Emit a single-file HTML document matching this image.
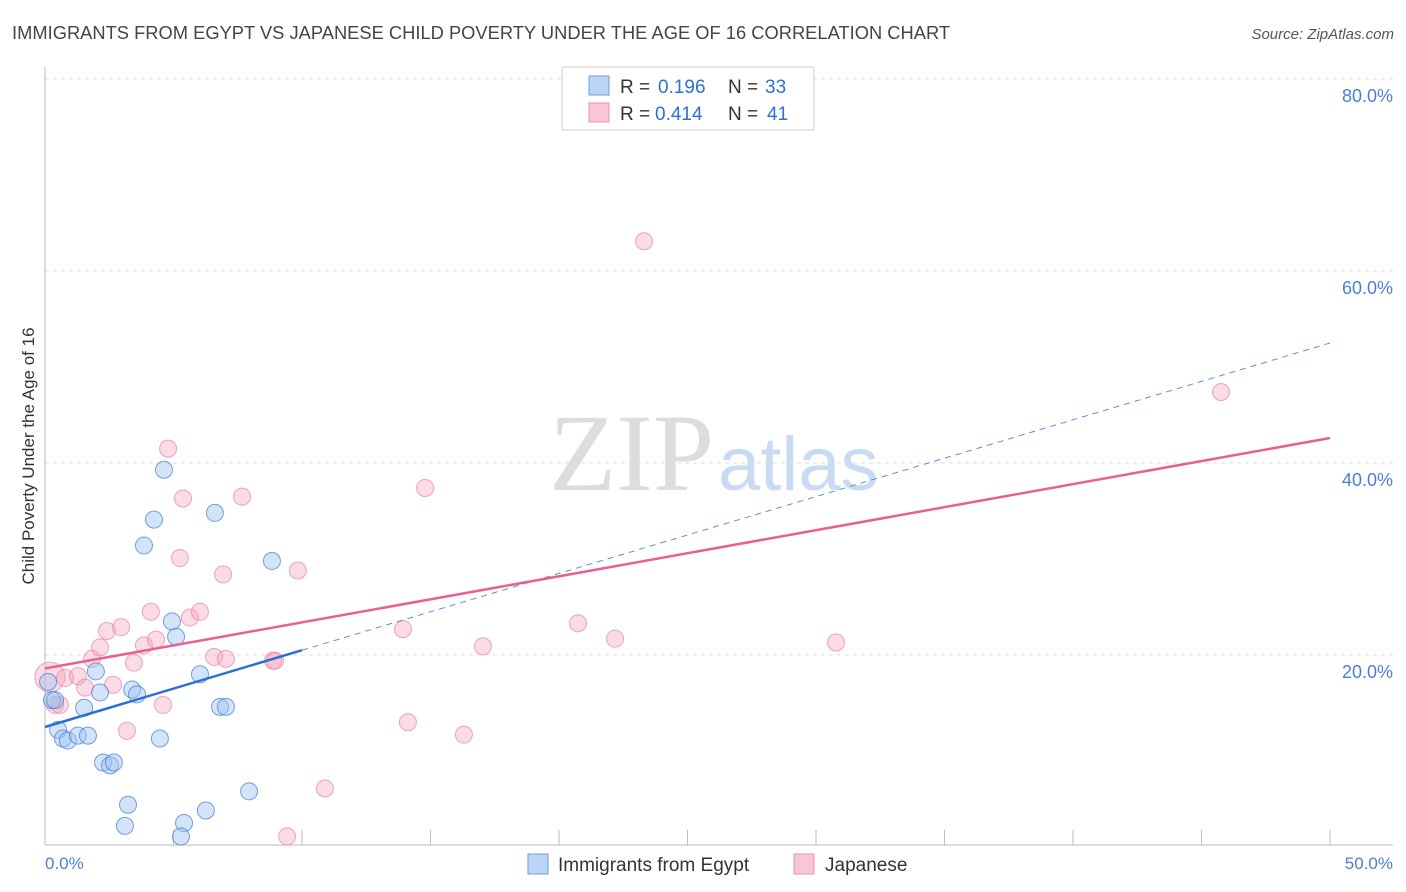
<!DOCTYPE html>
<html><head><meta charset="utf-8"><style>
body{margin:0;background:#fff;font-family:"Liberation Sans",sans-serif}
#wrap{position:relative;width:1406px;height:892px;overflow:hidden}
</style></head><body>
<div id="wrap">
<svg id="svg" width="1406" height="892" xmlns="http://www.w3.org/2000/svg">
<text x="12" y="39" font-size="18.3" fill="#444" textLength="938">IMMIGRANTS FROM EGYPT VS JAPANESE CHILD POVERTY UNDER THE AGE OF 16 CORRELATION CHART</text>
<text x="1394" y="39" font-size="15" fill="#555" text-anchor="end" font-style="italic">Source: ZipAtlas.com</text>
<text x="714" y="490" font-size="110" fill="#ddd" text-anchor="end" font-family="Liberation Serif,serif">ZIP</text>
<text x="718" y="490" font-size="76" fill="#c9daf3">atlas</text>
<g id="grid"></g>
<line x1="45" y1="67" x2="45" y2="845" stroke="#bbb"/>
<line x1="45" y1="845" x2="1393" y2="845" stroke="#bbb"/>
<text transform="translate(34,456) rotate(-90)" font-size="17" fill="#333" text-anchor="middle">Child Poverty Under the Age of 16</text>
<text x="45" y="869" font-size="17" fill="#4a7fd4">0.0%</text>
<text x="1393" y="869" font-size="17" fill="#4a7fd4" text-anchor="end">50.0%</text>
<g id="pts"></g>
<g id="trends"></g>
<g>
<rect x="562" y="67" width="252" height="63" fill="#fff" stroke="#ccc"/>
<rect x="589" y="76" width="20" height="19" fill="#bcd5f5" stroke="#6a9de0"/>
<rect x="589" y="103" width="20" height="19" fill="#f8c6d4" stroke="#e892ac"/>
<text x="620" y="93" font-size="19" fill="#333">R = </text><text x="658" y="93" font-size="19" fill="#2f6fd4">0.196</text>
<text x="728" y="93" font-size="19" fill="#333">N = </text><text x="765" y="93" font-size="19" fill="#2f6fd4">33</text>
<text x="620" y="120" font-size="19" fill="#333">R = </text><text x="655" y="120" font-size="19" fill="#2f6fd4">0.414</text>
<text x="728" y="120" font-size="19" fill="#333">N = </text><text x="767" y="120" font-size="19" fill="#2f6fd4">41</text>
</g>
<g>
<rect x="528" y="854" width="20" height="20" fill="#bcd5f5" stroke="#6a9de0"/>
<text x="558" y="871" font-size="19" fill="#333">Immigrants from Egypt</text>
<rect x="794" y="854" width="20" height="20" fill="#f8c6d4" stroke="#e892ac"/>
<text x="825" y="871" font-size="19" fill="#333">Japanese</text>
</g>
</svg>
</div>
<script>
const yTicks=[20,40,60,80];
const yTickLabels=["20.0%","40.0%","60.0%","80.0%"];
const xTicks=[5,10,15,20,25,30,35,40,45,50];
const egyptX=[0.27,0.51,0.70,0.89,1.28,1.67,1.52,1.98,2.14,2.26,2.53,2.68,3.23,3.11,3.39,3.58,3.85,4.24,4.47,4.63,4.94,5.10,5.41,5.29,6.03,6.26,6.61,6.81,7.04,7.94,8.83,0.12,0.39];
const egyptY=[15.3,12.2,11.3,11.1,11.6,11.6,14.5,18.3,16.1,8.8,8.5,8.8,4.4,2.2,16.4,15.9,31.4,34.1,11.3,39.3,23.5,21.9,2.5,1.1,18.0,3.8,34.8,14.6,14.6,5.8,29.8,17.2,15.3];
const japX=[0.19,0.39,0.78,1.28,1.56,1.83,2.14,2.41,2.65,2.96,3.19,3.46,3.85,4.12,4.32,4.59,4.79,5.25,5.37,5.64,6.03,6.58,6.93,7.04,7.67,8.87,8.95,9.84,9.42,10.89,13.93,14.12,14.79,16.30,17.04,20.74,22.18,23.31,30.78,45.76,0.58];
const japY=[17.7,14.8,17.6,17.8,16.6,19.6,20.8,22.5,16.9,22.9,12.1,19.2,21.0,24.5,21.6,14.8,41.5,30.1,36.3,23.9,24.5,19.8,28.4,19.6,36.5,19.4,19.4,28.8,1.1,6.1,22.7,13.0,37.4,11.7,20.9,23.3,21.7,63.1,21.3,47.4,14.8];
const japSize=[15,8.5,8.5,8.5,8.5,8.5,8.5,8.5,8.5,8.5,8.5,8.5,8.5,8.5,8.5,8.5,8.5,8.5,8.5,8.5,8.5,8.5,8.5,8.5,8.5,8.5,8.5,8.5,8.5,8.5,8.5,8.5,8.5,8.5,8.5,8.5,8.5,8.5,8.5,8.5,8.5];
const egyptTrend=[12.5,52.5];
const egyptSolidEnd=10;
const japTrend=[18.6,42.6];
const NS="http://www.w3.org/2000/svg";
const xs=v=>45+v/50*1285;
const ys=v=>847-v/20*192;
function mk(t,a,p){const e=document.createElementNS(NS,t);for(const k in a)e.setAttribute(k,a[k]);p.appendChild(e);return e;}
const grid=document.getElementById('grid');
yTicks.forEach((t,i)=>{
 const l=mk('line',{x1:45,x2:1393,y1:ys(t),y2:ys(t),stroke:'#ddd','stroke-dasharray':'4,4'},grid);
 
 
 const tx=mk('text',{x:1393,y:ys(t)+23,'font-size':18,fill:'#4a7fd4','text-anchor':'end'},grid);
 tx.textContent=yTickLabels[i];
 
 
});
xTicks.forEach(t=>{
 const l=mk('line',{x1:xs(t),x2:xs(t),y1:830,y2:845,stroke:'#bbb'},grid);
 
 
});
const pts=document.getElementById('pts');
japX.forEach((x,i)=>{
 const c=mk('circle',{cx:xs(x),cy:ys(japY[i]),r:japSize[i],fill:'rgba(244,166,190,0.4)',stroke:'rgba(232,130,160,0.7)','stroke-width':1},pts);
 
 
});
egyptX.forEach((x,i)=>{
 const c=mk('circle',{cx:xs(x),cy:ys(egyptY[i]),r:8.5,fill:'rgba(160,196,240,0.45)',stroke:'rgba(70,130,215,0.75)','stroke-width':1},pts);
 
 
});
const tr=document.getElementById('trends');
const eAt=x=>egyptTrend[0]+(egyptTrend[1]-egyptTrend[0])*x/50;
const d=mk('line',{x1:xs(egyptSolidEnd),y1:ys(eAt(egyptSolidEnd)),x2:xs(50),y2:ys(egyptTrend[1]),stroke:'#5b8fd8','stroke-width':1,'stroke-dasharray':'6,5'},tr);


const p=mk('line',{x1:xs(0),y1:ys(japTrend[0]),x2:xs(50),y2:ys(japTrend[1]),stroke:'#e8608e','stroke-width':2.5},tr);


const b=mk('line',{x1:xs(0),y1:ys(egyptTrend[0]),x2:xs(egyptSolidEnd),y2:ys(eAt(egyptSolidEnd)),stroke:'#2a6fd6','stroke-width':2.5},tr);


</script>
</body></html>
